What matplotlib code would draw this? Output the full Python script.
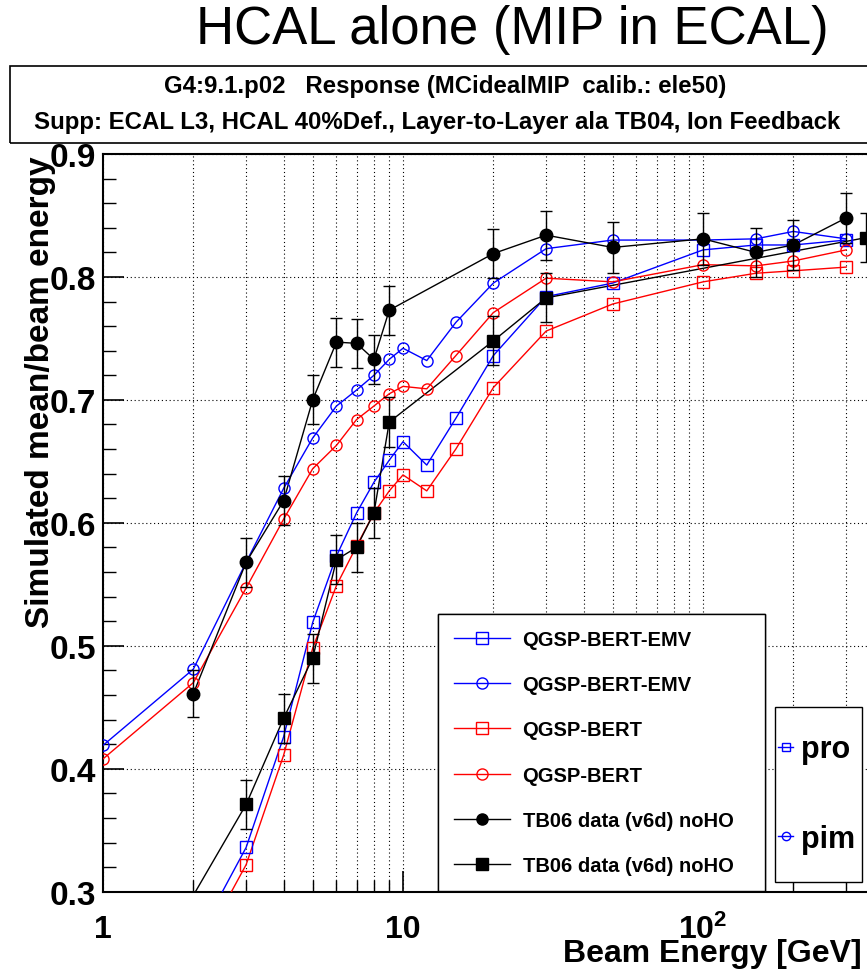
import matplotlib
matplotlib.use("Agg")
import matplotlib.pyplot as plt
from matplotlib.lines import Line2D
from matplotlib.patches import Rectangle
from matplotlib.ticker import LogLocator, MultipleLocator, FuncFormatter, NullFormatter, FormatStrFormatter

plt.rcParams['font.family'] = ['Liberation Sans', 'DejaVu Sans']
plt.rcParams['font.weight'] = 'bold'
plt.rcParams['mathtext.fontset'] = 'custom'
plt.rcParams['mathtext.rm'] = 'Liberation Sans'
plt.rcParams['mathtext.bf'] = 'Liberation Sans:bold'

# --- data ---------------------------------------------------------------
# simulation, pi- (circles)
energy_pim_sim = [1, 2, 3, 4, 5, 6, 7, 8, 9, 10, 12, 15, 20, 30, 50, 100, 150, 200, 300]
emv_pim = [0.419, 0.481, 0.568, 0.628, 0.669, 0.695, 0.708, 0.720, 0.733, 0.742,
           0.732, 0.763, 0.795, 0.823, 0.830, 0.830, 0.831, 0.837, 0.831]
bert_pim = [0.408, 0.470, 0.547, 0.603, 0.644, 0.663, 0.684, 0.695, 0.705, 0.711,
            0.709, 0.736, 0.771, 0.799, 0.796, 0.810, 0.809, 0.813, 0.822]

# simulation, protons (squares)
energy_pro_sim = [2, 3, 4, 5, 6, 7, 8, 9, 10, 12, 15, 20, 30, 50, 100, 150, 200, 300]
emv_pro = [0.256, 0.336, 0.426, 0.519, 0.573, 0.608, 0.633, 0.651, 0.666,
           0.647, 0.685, 0.736, 0.784, 0.795, 0.822, 0.826, 0.826, 0.830]
bert_pro = [0.243, 0.322, 0.411, 0.498, 0.549, 0.581, 0.608, 0.626, 0.639,
            0.626, 0.660, 0.710, 0.756, 0.778, 0.796, 0.803, 0.805, 0.808]

# TB06 data
energy_pim_data = [2, 3, 4, 5, 6, 7, 8, 9, 20, 30, 50, 100, 150, 200, 300]
tb_pim = [0.461, 0.568, 0.618, 0.700, 0.747, 0.746, 0.733, 0.773,
          0.819, 0.834, 0.824, 0.831, 0.820, 0.826, 0.848]
tb_pim_err = [0.019, 0.020, 0.020, 0.020, 0.020, 0.020, 0.020, 0.020,
              0.020, 0.020, 0.021, 0.021, 0.020, 0.020, 0.020]

energy_pro_data = [2, 3, 4, 5, 6, 7, 8, 9, 20, 30, 350]
tb_pro = [0.297, 0.371, 0.441, 0.490, 0.570, 0.580, 0.608, 0.682, 0.748, 0.783, 0.832]
tb_pro_err = [0.020, 0.020, 0.020, 0.020, 0.020, 0.020, 0.020, 0.020, 0.020, 0.020, 0.020]

labels = ['QGSP-BERT-EMV', 'QGSP-BERT-EMV', 'QGSP-BERT', 'QGSP-BERT',
          'TB06 data (v6d) noHO', 'TB06 data (v6d) noHO']

YMIN, YMAX = 0.3, 0.9

# --- figure -------------------------------------------------------------
W, H = 867, 970
fig = plt.figure(figsize=(W / 100, H / 100), dpi=100)
ax = fig.add_axes([103 / W, (H - 892.7) / H, (883 - 103) / W, (892.7 - 155) / H])
ax.set_xscale('log')
ax.set_xlim(1, 10 ** 2.6)
ax.set_ylim(YMIN, YMAX)

ms = 8
lw = 1.0


def series(x, y, color, marker, size, filled, err=None):
    # ROOT style: line clipped at the frame, markers / error bars only inside it
    ax.plot(x, y, color=color, linewidth=lw, zorder=3)
    inside = [i for i, v in enumerate(y) if YMIN <= v <= YMAX]
    xi = [x[i] for i in inside]
    yi = [y[i] for i in inside]
    ax.plot(xi, yi, linestyle='none', marker=marker, markersize=size, color=color,
            markerfacecolor=color if filled else 'none', markeredgewidth=1.0, zorder=4)
    if err is not None:
        ax.errorbar(xi, yi, yerr=[err[i] for i in inside], fmt='none', ecolor=color,
                    elinewidth=1.0, capsize=4, zorder=4)


series(energy_pro_sim, emv_pro, 'blue', 's', ms, False)
series(energy_pim_sim, emv_pim, 'blue', 'o', ms, False)
series(energy_pro_sim, bert_pro, 'red', 's', ms, False)
series(energy_pim_sim, bert_pim, 'red', 'o', ms, False)
series(energy_pim_data, tb_pim, 'black', 'o', ms + 1, True, tb_pim_err)
series(energy_pro_data, tb_pro, 'black', 's', ms + 0.5, True, tb_pro_err)

# axes styling (ROOT-like)
ax.xaxis.set_major_locator(LogLocator(base=10, numticks=10))
ax.xaxis.set_minor_locator(LogLocator(base=10, subs=range(2, 10), numticks=20))
xlab = {1: '1', 10: '10', 100: r'$\mathbf{10^{2}}$'}
ax.xaxis.set_major_formatter(FuncFormatter(lambda v, p: xlab.get(int(round(v)), '')))
ax.xaxis.set_minor_formatter(NullFormatter())
ax.yaxis.set_major_locator(MultipleLocator(0.1))
ax.yaxis.set_minor_locator(MultipleLocator(0.02))
ax.yaxis.set_major_formatter(FormatStrFormatter('%.1f'))

ax.tick_params(which='major', direction='in', length=15, width=1.2, top=False, right=False)
ax.tick_params(which='minor', direction='in', length=9, width=1.0, top=False, right=False)
ax.tick_params(axis='y', which='major', labelsize=24, pad=5)
ax.tick_params(axis='x', which='major', labelsize=23, pad=16)

for side in ['left', 'bottom', 'top']:
    ax.spines[side].set_linewidth(1.5)
ax.spines['right'].set_visible(False)

grid_kw = dict(color='black', linestyle=(0, (1, 2.5)), linewidth=0.8)
ax.grid(True, which='major', axis='y', **grid_kw)
ax.grid(True, which='both', axis='x', **grid_kw)
ax.set_axisbelow(True)

# --- legends ------------------------------------------------------------
handles = [
    Line2D([], [], color='blue', marker='s', mfc='none', ms=ms, lw=lw),
    Line2D([], [], color='blue', marker='o', mfc='none', ms=ms, lw=lw),
    Line2D([], [], color='red', marker='s', mfc='none', ms=ms, lw=lw),
    Line2D([], [], color='red', marker='o', mfc='none', ms=ms, lw=lw),
    Line2D([], [], color='black', marker='o', ms=ms, lw=lw),
    Line2D([], [], color='black', marker='s', ms=ms, lw=lw),
]
leg1 = ax.legend(handles, labels, loc='upper left',
                 bbox_to_anchor=(438 / W, 1 - 883 / H, (765 - 438) / W, (883 - 615) / H),
                 bbox_transform=fig.transFigure, mode='expand', fontsize=14.5,
                 fancybox=False, edgecolor='black', framealpha=1,
                 handlelength=2.8, handletextpad=0.6, labelspacing=1.3,
                 borderpad=0.8, borderaxespad=0)
leg1.get_frame().set_linewidth(1.0)
ax.add_artist(leg1)

# particle legend: frame drawn separately so its size matches the original
fig.add_artist(Rectangle((775 / W, 1 - 883 / H), 87 / W, 175 / H, transform=fig.transFigure,
                         facecolor='white', edgecolor='black', lw=1.0, zorder=5))
handles2 = [
    Line2D([], [], color='blue', marker='s', mfc='none', ms=6, lw=1.0),
    Line2D([], [], color='blue', marker='o', mfc='none', ms=6, lw=1.0),
]
leg2 = fig.legend(handles2, ['pro', 'pim'], loc='center left',
                  bbox_to_anchor=(778 / W, 1 - 795 / H),
                  fontsize=22, frameon=False,
                  handlelength=0.5, handletextpad=0.25, labelspacing=1.95,
                  borderpad=0.0, borderaxespad=0)
leg2.set_zorder(6)

# --- titles and labels --------------------------------------------------
fig.text(512 / W, 1 - 44 / H, 'HCAL alone (MIP in ECAL)', ha='center', va='baseline',
         fontsize=38, fontweight='normal')
fig.add_artist(Rectangle((10 / W, 1 - 144 / H), (875 - 10) / W, (144 - 66.7) / H,
                         transform=fig.transFigure, fill=False, lw=1.2, ec='black'))
fig.text(445 / W, 1 - 93 / H, 'G4:9.1.p02   Response (MCidealMIP  calib.: ele50)',
         ha='center', va='baseline', fontsize=17.3, fontweight='bold')
fig.text(437 / W, 1 - 129 / H,
         'Supp: ECAL L3, HCAL 40%Def., Layer-to-Layer ala TB04, Ion Feedback',
         ha='center', va='baseline', fontsize=17.3, fontweight='bold')

fig.text(41 / W, 1 - 156 / H, 'Simulated mean/beam energy', rotation=90,
         ha='center', va='top', fontsize=24, fontweight='bold')
fig.text(862 / W, 1 - 962 / H, 'Beam Energy [GeV]', ha='right', va='baseline',
         fontsize=23, fontweight='bold')

fig.savefig('out.png', dpi=100)
